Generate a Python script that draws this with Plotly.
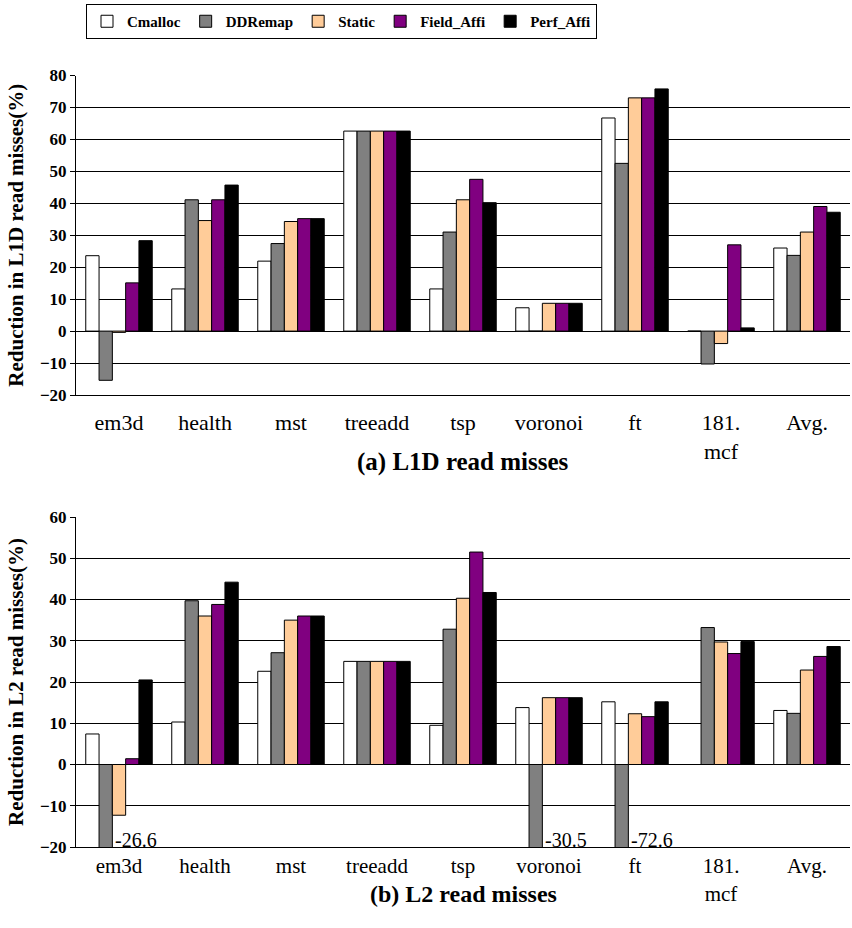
import plotly.graph_objects as go

categories = ["em3d", "health", "mst", "treeadd", "tsp", "voronoi", "ft", "181.<br>mcf", "Avg."]
series_names = ["Cmalloc", "DDRemap", "Static", "Field_Affi", "Perf_Affi"]
colors = ["#FFFFFF", "#808080", "#FFCC99", "#800080", "#000000"]

# (a) L1D read misses reduction (%)
l1_cmalloc = [23.6, 13.2, 21.9, 62.6, 13.2, 7.3, 66.7, 0.0, 26.0]
l1_ddremap = [-15.4, 41.1, 27.4, 62.6, 31.0, 0.0, 52.5, -10.3, 23.7]
l1_static = [-0.4, 34.6, 34.3, 62.6, 41.1, 8.7, 73.0, -3.9, 31.0]
l1_field = [15.1, 41.1, 35.2, 62.6, 47.5, 8.7, 73.0, 27.0, 39.0]
l1_perf = [28.3, 45.7, 35.2, 62.6, 40.2, 8.7, 75.8, 1.0, 37.2]

# (b) L2 read misses reduction (%)
l2_cmalloc = [7.4, 10.3, 22.6, 25.0, 9.5, 13.8, 15.2, 0.0, 13.1]
l2_ddremap = [-26.6, 39.7, 27.1, 25.0, 32.8, -30.5, -72.6, 33.2, 12.4]
l2_static = [-12.3, 36.0, 35.0, 25.0, 40.3, 16.2, 12.3, 29.7, 22.9]
l2_field = [1.4, 38.8, 36.0, 25.0, 51.5, 16.2, 11.6, 26.9, 26.2]
l2_perf = [20.5, 44.2, 36.0, 25.0, 41.7, 16.2, 15.2, 29.8, 28.6]

l1_range = [-20, 80]
l2_range = [-20, 60]

SERIF = "Liberation Serif, Times New Roman, serif"

fig = go.Figure()

l1 = [l1_cmalloc, l1_ddremap, l1_static, l1_field, l1_perf]
l2 = [l2_cmalloc, l2_ddremap, l2_static, l2_field, l2_perf]

for name, col, vals in zip(series_names, colors, l1):
    fig.add_trace(go.Bar(x=categories, y=vals, name=name, marker=dict(color=col, line=dict(color="black", width=1)),
                         xaxis="x", yaxis="y", showlegend=True))
for name, col, vals in zip(series_names, colors, l2):
    fig.add_trace(go.Bar(x=categories, y=vals, name=name, marker=dict(color=col, line=dict(color="black", width=1)),
                         xaxis="x2", yaxis="y2", showlegend=False))

bargap = 0.227
bw = (1 - bargap) / 5
annotations = []
for si, vals in enumerate(l2):
    for ci, v in enumerate(vals):
        if v < l2_range[0]:
            right_edge = ci + (si - 2) * bw + bw / 2
            annotations.append(dict(x=right_edge, y=l2_range[0] + 1.8, xref="x2", yref="y2",
                                    text=f"{v:.1f}", showarrow=False, xanchor="left", yanchor="middle",
                                    xshift=1, font=dict(family=SERIF, size=20, color="black")))

annotations.append(dict(x=0.5, y=1 - 462 / 928, xref="paper", yref="paper", text="(a) L1D read misses",
                        showarrow=False, font=dict(family=SERIF, size=25, color="black", weight="bold")))
annotations.append(dict(x=0.5, y=1 - 909 / 928, xref="paper", yref="paper", text="(b) L2 read misses",
                        showarrow=False, font=dict(family=SERIF, size=24, color="black", weight="bold")))

yax_common = dict(showgrid=True, gridcolor="black", gridwidth=1, showline=True, linecolor="black", linewidth=1,
                  ticks="outside", ticklen=5, tickcolor="black", dtick=10, zeroline=True, zerolinecolor="black",
                  zerolinewidth=1, tickfont=dict(family=SERIF, size=17, color="black", weight="bold"),
                  title_font=dict(family=SERIF, size=21, color="black", weight="bold"), title_standoff=10,
                  automargin=False)
xax_common = dict(showline=True, linecolor="black", linewidth=1, ticks="", showgrid=False, automargin=False)

fig.update_layout(
    width=852, height=928,
    margin=dict(l=76, r=2, t=0, b=0),
    paper_bgcolor="white", plot_bgcolor="white",
    barmode="group", bargap=bargap, bargroupgap=0,
    font=dict(family=SERIF, color="black"),
    xaxis=dict(domain=[0, 1], anchor="y", ticklabelstandoff=8,
               tickfont=dict(family=SERIF, size=22, color="black"), **xax_common),
    xaxis2=dict(domain=[0, 1], anchor="y2", ticklabelstandoff=0,
                tickfont=dict(family=SERIF, size=21, color="black"), **xax_common),
    yaxis=dict(domain=[1 - 395 / 928, 1 - 75.5 / 928], range=l1_range, anchor="x",
               title=dict(text="Reduction in L1D read misses(%)"), **yax_common),
    yaxis2=dict(domain=[1 - 847 / 928, 1 - 517 / 928], range=l2_range, anchor="x2",
                title=dict(text="Reduction in L2 read misses(%)"), **yax_common),
    legend=dict(orientation="h", x=(86 - 76) / 774, y=1 - 4 / 928, xanchor="left", yanchor="top",
                bordercolor="black", borderwidth=1, bgcolor="white",
                font=dict(family=SERIF, size=15, color="black", weight="bold"), itemwidth=30,
                traceorder="normal"),
    annotations=annotations,
)

fig.write_html("out.html", config={"displayModeBar": False},
               post_script="document.body.style.margin='0';document.body.style.padding='0';"
                           "document.documentElement.style.overflow='hidden';")
